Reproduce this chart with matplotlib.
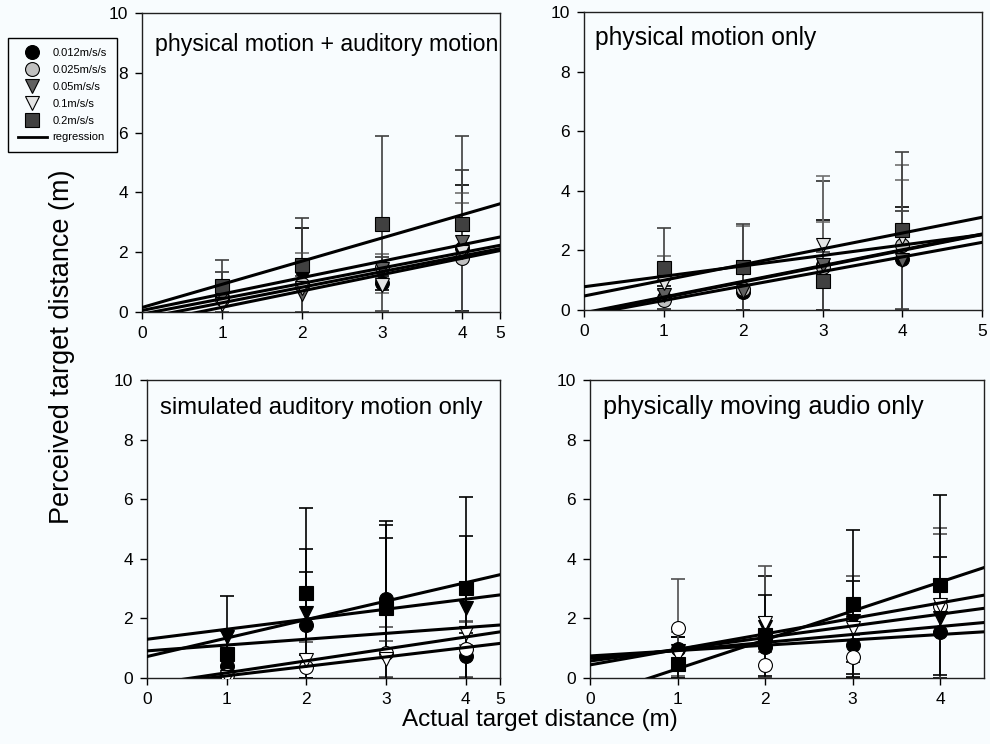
import numpy as np
import matplotlib.pyplot as plt
from matplotlib.lines import Line2D

plt.rcParams['font.family'] = ['Liberation Sans', 'DejaVu Sans']

speeds = ['0.012m/s/s', '0.025m/s/s', '0.05m/s/s', '0.1m/s/s', '0.2m/s/s']
distances = [1, 2, 3, 4]

# panel 1: physical motion + auditory motion (rows follow speeds)
pm_am_means = [[0.50, 1.40, 0.97, 2.15],
               [0.45, 0.95, 1.50, 1.80],
               [0.55, 0.60, 1.45, 2.35],
               [0.28, 0.80, 0.90, 2.00],
               [0.87, 1.58, 2.95, 2.95]]
pm_am_err = [[0.52, 1.42, 0.25, 2.11],
             [0.47, 1.02, 0.43, 1.85],
             [0.79, 0.62, 0.40, 2.39],
             [0.30, 0.82, 0.25, 1.99],
             [0.86, 1.57, 2.92, 2.94]]
pm_am_icpt = [0.15, 0.05, -0.072, -0.214, -0.39]
pm_am_slope = [0.776, 0.55, 0.515, 0.522, 0.547]

# panel 2: physical motion only
pm_means = [[0.40, 0.62, 1.51, 1.72],
            [0.34, 0.70, 1.45, 2.18],
            [0.50, 0.65, 1.50, 1.67],
            [0.92, 1.40, 2.18, 2.44],
            [1.40, 1.43, 0.97, 2.68]]
pm_err = [[0.40, 0.62, 1.51, 1.72],
          [0.34, 0.70, 1.50, 2.18],
          [0.50, 0.65, 2.83, 1.66],
          [0.90, 1.43, 2.33, 2.43],
          [1.36, 1.46, 0.97, 2.63]]
pm_icpt = [0.47, 0.78, -0.095, -0.12, -0.171]
pm_slope = [0.528, 0.35, 0.529, 0.53, 0.488]

# panel 3: simulated auditory motion only
sim_means = [[0.40, 1.78, 2.64, 0.75],
             [0.10, 0.38, 0.85, 0.96],
             [1.36, 2.17, 2.36, 2.34],
             [0.05, 0.60, 0.65, 1.50],
             [0.79, 2.84, 2.34, 3.01]]
sim_err = [[0.40, 2.55, 2.63, 0.75],
           [0.10, 0.38, 0.87, 0.94],
           [1.39, 1.39, 2.35, 2.43],
           [0.05, 0.60, 0.60, 0.38],
           [0.79, 2.85, 2.78, 3.08]]
sim_icpt = [0.72, 1.30, 0.91, -0.224, -0.244]
sim_slope = [0.62, 0.336, 0.196, 0.40, 0.317]

# panel 4: physically moving audio only
pma_means = [[0.96, 1.03, 1.10, 1.55],
             [1.69, 0.44, 0.72, 2.40],
             [0.90, 1.70, 1.90, 2.00],
             [0.77, 1.83, 1.67, 2.45],
             [0.47, 1.44, 2.50, 3.12]]
pma_err = [[0.40, 1.03, 0.96, 1.55],
           [1.62, 0.44, 0.72, 2.43],
           [0.46, 1.72, 1.36, 2.06],
           [0.77, 1.94, 1.76, 2.59],
           [0.47, 1.36, 2.47, 3.03]]
pma_icpt = [-0.66, 0.44, 0.57, 0.66, 0.74]
pma_slope = [0.97, 0.52, 0.393, 0.267, 0.18]

titles = ['physical motion + auditory motion', 'physical motion only',
          'simulated auditory motion only', 'physically moving audio only']
title_sizes = [16.7, 17.7, 17.2, 18.2]

markers = ['o', 'o', 'v', 'v', 's']
grey_faces = ['black', '#c0c0c0', '#606060', '#e4e4e4', '#404040']
grey_bars = ['black', '#707070', '#303030', '#707070', '#404040']
bw_faces = ['black', 'white', 'black', 'white', 'black']
bw_bars = ['black', '#505050', 'black', '#505050', 'black']

bg = '#f8fcfe'
fig = plt.figure(figsize=(9.9, 7.44), dpi=100, facecolor=bg)

panels = [
    ([142/990, 1-312/744, 358/990, 299/744], pm_am_means, pm_am_err, pm_am_icpt, pm_am_slope, 4.47, True, grey_faces, grey_bars, (0.036, 0.893)),
    ([584/990, 1-310/744, 398/990, 298/744], pm_means, pm_err, pm_icpt, pm_slope, 5.0, False, grey_faces, grey_bars, (0.028, 0.913)),
    ([147/990, 1-678/744, 353/990, 298/744], sim_means, sim_err, sim_icpt, sim_slope, 4.43, True, bw_faces, bw_bars, (0.037, 0.906)),
    ([590/990, 1-678/744, 394/990, 298/744], pma_means, pma_err, pma_icpt, pma_slope, 4.5, None, bw_faces, bw_bars, (0.033, 0.909)),
]

for i, (pos, means, errs, icpt, slope, xmax, five, faces, bars, tpos) in enumerate(panels):
    ax = fig.add_axes(pos, facecolor=bg)
    for k in range(5):
        ax.errorbar(distances, means[k], yerr=errs[k], fmt='none', ecolor=bars[k],
                    elinewidth=1.2, capsize=5, capthick=1.2, zorder=2)
    for k in range(5):
        ax.plot(distances, means[k], linestyle='none', marker=markers[k], markersize=10,
                markerfacecolor=faces[k], markeredgecolor='black', markeredgewidth=0.8,
                zorder=3)
    xs = np.array([0, xmax])
    for a, b in zip(icpt, slope):
        ax.plot(xs, a + b * xs, color='black', linewidth=2.2, zorder=4)
    ax.set_xlim(0, xmax)
    ax.set_ylim(0, 10)
    ax.set_yticks([0, 2, 4, 6, 8, 10])
    if five is True:
        # the original puts its "5" label at the right edge of the box
        ax.set_xticks([0, 1, 2, 3, 4, xmax])
        ax.set_xticklabels(['0', '1', '2', '3', '4', '5'])
    elif five is None:
        ax.set_xticks([0, 1, 2, 3, 4])
    else:
        ax.set_xticks([0, 1, 2, 3, 4, 5])
    ax.tick_params(direction='out', length=5, width=1, labelsize=12.5, pad=5)
    for s in ax.spines.values():
        s.set_linewidth(1)
        s.set_color('#202020')
    ax.text(tpos[0], tpos[1], titles[i], transform=ax.transAxes,
            fontsize=title_sizes[i], ha='left', va='center')

handles = [Line2D([], [], linestyle='none', marker=markers[k], markersize=10,
                  markerfacecolor=grey_faces[k], markeredgecolor='black',
                  markeredgewidth=0.8) for k in range(5)]
handles.append(Line2D([], [], color='black', linewidth=2))
leg = fig.legend(handles, speeds + ['regression'], loc='upper left',
                 bbox_to_anchor=(8/990, 1-38/744), borderaxespad=0, fontsize=8,
                 frameon=True, fancybox=False, edgecolor='black', facecolor=bg,
                 framealpha=1, handlelength=2.6, handletextpad=0.5,
                 labelspacing=0.62, borderpad=0.9)
leg.get_frame().set_linewidth(1)

fig.text(540/990, 1-720/744, 'Actual target distance (m)', fontsize=17.5,
         ha='center', va='center')
fig.text(62/990, 1-347/744, 'Perceived target distance (m)', fontsize=19.5,
         ha='center', va='center', rotation=90)

fig.savefig('out.png', dpi=100, facecolor=bg)
